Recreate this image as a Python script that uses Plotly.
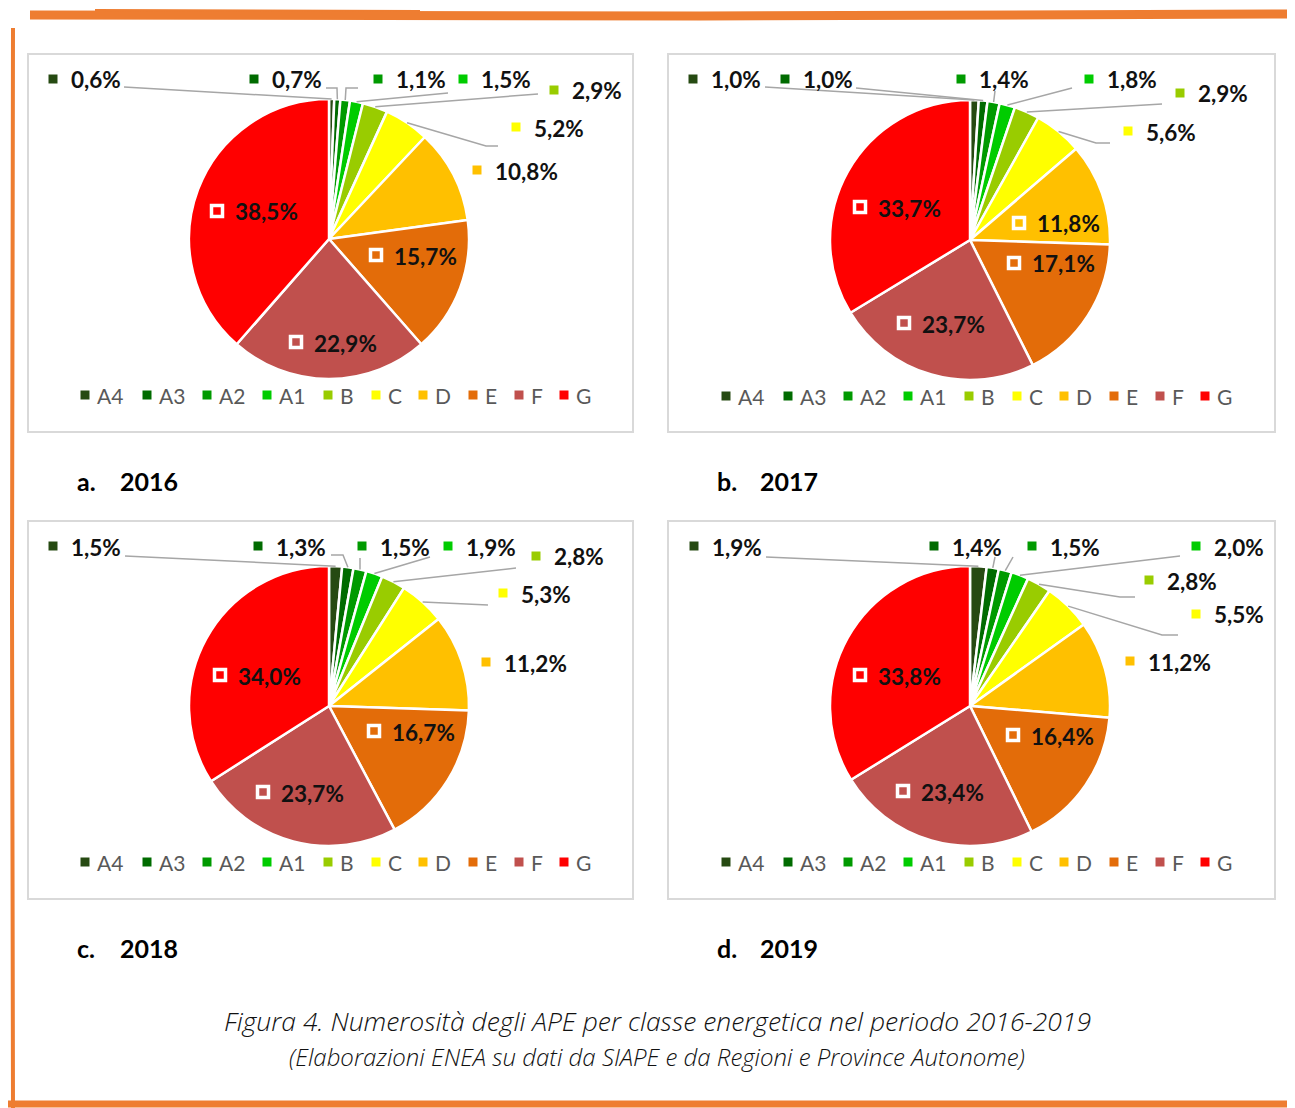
import math
import plotly.graph_objects as go

W, H = 1295, 1108
# the html body adds an 8px margin, so the figure is drawn 8px smaller and shifted
OFF = 8
FW, FH = W - OFF, H - OFF

classes = ["A4", "A3", "A2", "A1", "B", "C", "D", "E", "F", "G"]
colors = ["#264A12", "#006B00", "#009A00", "#00CC00", "#99CC00",
          "#FFFF00", "#FFC000", "#E36C09", "#C0504D", "#FF0000"]
years = ["2016", "2017", "2018", "2019"]
tags = ["a.", "b.", "c.", "d."]

v2016 = [0.6, 0.7, 1.1, 1.5, 2.9, 5.2, 10.8, 15.7, 22.9, 38.5]
v2017 = [1.0, 1.0, 1.4, 1.8, 2.9, 5.6, 11.8, 17.1, 23.7, 33.7]
v2018 = [1.5, 1.3, 1.5, 1.9, 2.8, 5.3, 11.2, 16.7, 23.7, 34.0]
v2019 = [1.9, 1.4, 1.5, 2.0, 2.8, 5.5, 11.2, 16.4, 23.4, 33.8]
values = [v2016, v2017, v2018, v2019]

# page layout in pixels
centers = [(329, 239), (970, 240), (329, 706), (970, 706)]
R = 140
boxes = [(28, 54, 633, 432), (668, 54, 1275, 432), (28, 521, 633, 899), (668, 521, 1275, 899)]
legend_dx = [-244, -182, -122, -62, -1, 47, 94, 144, 190, 235]
legend_dy = 156

# data label placement: ("out", marker x, marker y, leader points) or ("in", x, y)
label_pos = [
    [("out", 53, 79, [(124, 87)]),
     ("out", 254, 79, [(326, 88), (337, 88)]),
     ("out", 378, 79, [(358, 88), (346, 88)]),
     ("out", 463, 79, [(448, 93)]),
     ("out", 554, 90, [(538, 94)]),
     ("out", 516, 127, [(498, 146), (486, 146)]),
     ("out", 477, 170, None),
     ("in", 376, 255), ("in", 296, 342), ("in", 217, 211)],
    [("out", 693, 79, [(765, 87)]),
     ("out", 785, 79, [(856, 88)]),
     ("out", 961, 79, [(995, 91)]),
     ("out", 1089, 79, [(1072, 88)]),
     ("out", 1180, 93, [(1162, 104)]),
     ("out", 1128, 131, [(1110, 143), (1096, 143)]),
     ("in", 1019, 223), ("in", 1014, 263), ("in", 904, 323), ("in", 860, 207)],
    [("out", 53, 546, [(125, 556)]),
     ("out", 258, 546, [(331, 555), (343, 555)]),
     ("out", 362, 546, [(360, 558)]),
     ("out", 448, 546, [(430, 557)]),
     ("out", 536, 556, [(516, 568)]),
     ("out", 503, 593, [(488, 605)]),
     ("out", 486, 662, None),
     ("in", 374, 731), ("in", 263, 792), ("in", 220, 675)],
    [("out", 694, 546, [(766, 557)]),
     ("out", 934, 546, [(995, 557)]),
     ("out", 1032, 546, [(1013, 557)]),
     ("out", 1196, 546, [(1180, 556)]),
     ("out", 1149, 580, [(1135, 597), (1120, 597)]),
     ("out", 1196, 614, [(1178, 635), (1162, 635)]),
     ("out", 1130, 661, None),
     ("in", 1013, 735), ("in", 903, 791), ("in", 860, 675)],
]


def px(x):
    return (x - OFF) / FW


def py(y):
    return 1 - (y - OFF) / FH


def fmt(v):
    return f"{v:.1f}".replace(".", ",") + "%"


def rect(x0, y0, x1, y1, **kw):
    return dict(type="rect", xref="paper", yref="paper",
                x0=px(x0), x1=px(x1), y0=py(y1), y1=py(y0), **kw)


def line(pts, color, width):
    path = "M " + " L ".join(f"{px(x)},{py(y)}" for x, y in pts)
    return dict(type="path", xref="paper", yref="paper", path=path,
                line=dict(color=color, width=width))


def text(x, y, s, size, color="black", xanchor="left", family="Lato", **fkw):
    return dict(x=px(x), y=py(y), xref="paper", yref="paper", text=s,
                showarrow=False, xanchor=xanchor, yanchor="middle",
                font=dict(family=family, size=size, color=color, **fkw))


fig = go.Figure()
shapes = []
annotations = []

for k, vals in enumerate(values):
    cx, cy = centers[k]
    bx0, by0, bx1, by1 = boxes[k]
    shapes.append(rect(bx0, by0, bx1, by1, line=dict(color="#D9D9D9", width=2)))

    fig.add_trace(go.Pie(
        labels=classes, values=vals, sort=False, direction="clockwise", rotation=0,
        marker=dict(colors=colors, line=dict(color="white", width=2.5)),
        textinfo="none", hoverinfo="label+percent", showlegend=False,
        domain=dict(x=[px(cx - R), px(cx + R)], y=[py(cy + R), py(cy - R)]),
    ))

    total = sum(vals)
    cum = 0
    for i, v in enumerate(vals):
        mid = (cum + v / 2) / total
        cum += v
        ang = 2 * math.pi * mid
        ex, ey = cx + R * math.sin(ang), cy - R * math.cos(ang)
        spec = label_pos[k][i]
        mx, my = spec[1], spec[2]
        if spec[0] == "out":
            shapes.append(rect(mx - 4.5, my - 4.5, mx + 4.5, my + 4.5,
                               fillcolor=colors[i], line=dict(width=0)))
            if spec[3]:
                shapes.append(line(spec[3] + [(ex, ey)], "#A6A6A6", 1.5))
            annotations.append(text(mx + 16, my + 1, "<b>" + fmt(v) + "</b>", 22.5, "#111111"))
        else:
            shapes.append(rect(mx - 5.5, my - 5.5, mx + 5.5, my + 5.5,
                               line=dict(color="white", width=3.5)))
            annotations.append(text(mx + 16, my + 1, "<b>" + fmt(v) + "</b>", 22.5, "#111111"))

    # legend row under each pie
    for i, c in enumerate(classes):
        lx, ly = cx + legend_dx[i], cy + legend_dy
        shapes.append(rect(lx - 4.5, ly - 4.5, lx + 4.5, ly + 4.5,
                           fillcolor=colors[i], line=dict(width=0)))
        annotations.append(text(lx + 10, ly, c, 21, "#595959"))

    # panel caption
    yy = by1 + 49
    annotations.append(text(bx0 + 47, yy, "<b>" + tags[k] + "</b>", 25, "black"))
    annotations.append(text(bx0 + 90, yy, "<b>" + years[k] + "</b>", 25, "black"))

annotations.append(text(657, 1021, "<i>Figura 4. Numerosità degli APE per classe energetica nel periodo 2016-2019</i>",
                        26.5, "#111111", xanchor="center", family="Open Sans", weight=300))
annotations.append(text(657, 1056, "<i>(Elaborazioni ENEA su dati da SIAPE e da Regioni e Province Autonome)</i>",
                        24, "#111111", xanchor="center", family="Open Sans", weight=300))

# hand-drawn orange frame
orange = "#EE7D31"
shapes.append(line([(30, 15), (700, 16), (1295, 14)], orange, 9))
shapes.append(line([(95, 10), (420, 11)], orange, 2))
shapes.append(line([(13, 28), (12, 600), (13, 1108)], orange, 4))
shapes.append(line([(1291, 14), (1290, 600), (1290, 1108)], orange, 3))
shapes.append(line([(0, 1104), (1295, 1104)], orange, 7))

fig.update_layout(
    width=FW, height=FH,
    margin=dict(l=0, r=0, t=0, b=0),
    paper_bgcolor="white", plot_bgcolor="white",
    showlegend=False,
    shapes=shapes,
    annotations=annotations,
)

fig.write_html("out.html")
